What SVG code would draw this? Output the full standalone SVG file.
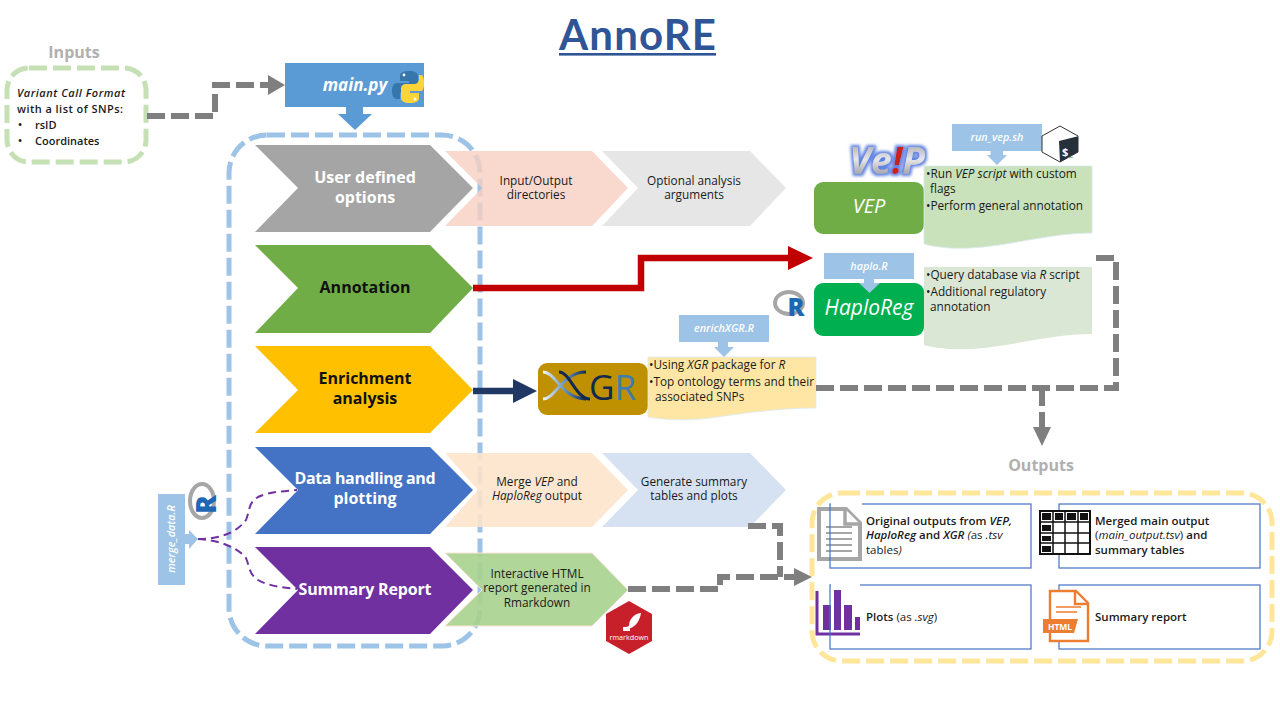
<svg xmlns="http://www.w3.org/2000/svg" width="1280" height="720" viewBox="0 0 1280 720">
<defs>
<style>
text{font-family:"Open Sans","Noto Sans","DejaVu Sans",sans-serif;fill:#1a1a1a;font-size:11.8px}
.m{text-anchor:middle}
.i{font-style:italic}
.b{font-weight:600}
.o{font-size:11.5px}
.h{font-weight:700;font-size:16px;fill:#fff;text-anchor:middle}
.lab{font-weight:700;font-size:16px;fill:#b0b0b0;text-anchor:middle}
.scr{font-style:italic;font-weight:600;font-size:10.8px;fill:#fff;text-anchor:middle}
.big{font-style:italic;fill:#fff;text-anchor:middle}
.chev{stroke:#fff;stroke-width:5;paint-order:stroke}
.gd{fill:none;stroke:#7f7f7f;stroke-width:6;stroke-dasharray:18 6}
.box{fill:none;stroke:#4472c4;stroke-width:1.2}
.sb{fill:#9dc3e6}
.ring{fill:none;stroke:#a6a6a6;stroke-width:4}
</style>
<linearGradient id="vg" x1="0" y1="0" x2="0" y2="1"><stop offset="0" stop-color="#8c8c96"/><stop offset="0.5" stop-color="#e6e6ea"/><stop offset="1" stop-color="#74747c"/></linearGradient>
<linearGradient id="hx" x1="0" y1="0" x2="1" y2="0"><stop offset="0" stop-color="#f0f5fa"/><stop offset="0.55" stop-color="#5d8bbd"/><stop offset="1" stop-color="#12284e"/></linearGradient>
<filter id="gl" x="-20%" y="-20%" width="140%" height="140%">
<feMorphology in="SourceAlpha" operator="dilate" radius="1.6" result="d"/>
<feGaussianBlur in="d" stdDeviation="1.4" result="b"/>
<feFlood flood-color="#5f83e0"/><feComposite in2="b" operator="in" result="c"/>
<feMerge><feMergeNode in="c"/><feMergeNode in="SourceGraphic"/></feMerge>
</filter>
</defs>
<rect width="1280" height="720" fill="#fff"/>

<text x="637.5" y="50" class="m" textLength="157" style="font-family:Lato,'Open Sans',sans-serif;font-weight:700;font-size:42px;fill:#2f5597">AnnoRE</text>
<rect x="559" y="53" width="157" height="2.6" fill="#2f5597"/>

<g id="pipeline-frame"><rect x="229" y="135" width="251" height="511" rx="38" fill="none" stroke="#9dc3e6" stroke-width="5" stroke-dasharray="18 6"/></g>

<g id="inputs">
<text x="74" y="58" class="lab">Inputs</text>
<rect x="7" y="68" width="139" height="94" rx="22" fill="#fff" stroke="#c5e0b4" stroke-width="5" stroke-dasharray="18 6"/>
<text x="17" y="97" class="i b" style="font-size:11px" textLength="108">Variant Call Format</text>
<text x="17" y="113" class="b" style="font-size:11px" textLength="106">with a  list of SNPs:</text>
<text x="18" y="129" class="b" style="font-size:11px">•</text><text x="35" y="129" class="b" style="font-size:11px">rsID</text>
<text x="18" y="145" class="b" style="font-size:11px">•</text><text x="35" y="145" class="b" style="font-size:11px">Coordinates</text>
</g>

<g id="main-py">
<rect x="285" y="63" width="139" height="44" fill="#5b9bd5"/>
<text x="355" y="91" class="m i" style="font-weight:700;font-size:17px;fill:#fff">main.py</text>
<path d="M346 107H363V114H372L355 130L338 114H346Z" fill="#5b9bd5"/>
<path d="M409 71c-6 0-9 2-9 5v5h9v2h-12c-3 0-5 3-5 8s2 8 5 8h3v-4c0-3 2-5 5-5h8c3 0 5-2 5-4v-10c0-3-3-5-9-5z" fill="#3776ab"/>
<path d="M410 103c6 0 9-2 9-5v-5h-9v-2h11c2 0 3-3 3-8s-1-8-3-8h-2v4c0 3-2 5-5 5h-8c-3 0-5 2-5 4v10c0 3 3 5 9 5z" fill="#ffd43b"/>
<circle cx="404" cy="75" r="1.4" fill="#fff"/><circle cx="415" cy="99" r="1.4" fill="#fff"/>
</g>

<g id="step-options">
<path d="M445 151H592L628 188L592 226H445L482 188Z" fill="#f8cfc2" fill-opacity="0.8"/>
<path d="M602 151H750L786 188L750 226H602L638 188Z" fill="#e7e6e6"/>
<path class="chev" d="M255 145H430L473 188L430 232H255L298 188Z" fill="#a5a5a5"/>
<text x="365" y="183" class="h">User defined</text><text x="365" y="203" class="h">options</text>
<text x="536" y="185" class="m">Input/Output</text><text x="536" y="199" class="m">directories</text>
<text x="694" y="185" class="m">Optional analysis</text><text x="694" y="199" class="m">arguments</text>
</g>
<g id="step-annotation">
<path class="chev" d="M255 245H430L473 288L430 333H255L298 288Z" fill="#70ad47"/>
<text x="365" y="293" class="h" style="fill:#111">Annotation</text>
</g>
<g id="step-enrichment">
<path class="chev" d="M255 346H430L473 390L430 433H255L298 390Z" fill="#ffc000"/>
<text x="365" y="384" class="h" style="fill:#111">Enrichment</text><text x="365" y="404" class="h" style="fill:#111">analysis</text>
</g>
<g id="step-data">
<path d="M445 453H592L628 490L592 527H445L478 490Z" fill="#fee4cb" fill-opacity="0.88"/>
<path d="M602 453H750L786 490L750 527H602L638 490Z" fill="#d6e2f2"/>
<path class="chev" d="M255 447H430L473 490L430 534H255L298 490Z" fill="#4472c4"/>
<text x="365" y="484" class="h" textLength="141">Data handling and</text><text x="365" y="504" class="h">plotting</text>
<text x="537" y="486" class="m">Merge  <tspan class="i">VEP</tspan> and</text><text x="537" y="500" class="m"><tspan class="i">HaploReg</tspan> output</text>
<text x="694" y="486" class="m">Generate  summary</text><text x="694" y="500" class="m">tables and plots</text>
</g>
<g id="step-summary">
<path d="M445 553H592L628 590L592 626H445L482 590Z" fill="#a9d18e" fill-opacity="0.9" stroke="#fbe5d6" stroke-width="1"/>
<path class="chev" d="M255 547H430L473 590L430 634H255L298 590Z" fill="#7030a0"/>
<text x="365" y="595" class="h" textLength="133">Summary Report</text>
<text x="537" y="578" class="m">Interactive HTML</text><text x="537" y="592" class="m">report generated  in</text><text x="537" y="607" class="m">Rmarkdown</text>
<path d="M629 601L652 614V641L629 654L606 641V614Z" fill="#c8202a"/>
<path d="M641 613c-8 1-12 7-12 13l-3 1 1 2 4-1c5-2 9-8 10-15z" fill="#fff"/><rect x="623" y="627" width="7" height="4" fill="#fff"/>
<text x="629" y="640" class="m" style="font-size:7.2px;fill:#fff">rmarkdown</text>
</g>

<g id="vep">
<rect x="814" y="182" width="110" height="52" rx="9" fill="#70ad47"/>
<text x="869" y="213" class="big" style="font-size:20px">VEP</text>
<text x="887" y="174" class="m" filter="url(#gl)" style="font-size:37px;font-weight:700;font-style:italic;fill:url(#vg)">Ve<tspan style="fill:#c8201e">!</tspan>P</text>
<path d="M924 166H1092V233C1050 233 1010 246 970 248C950 249 935 247 924 244Z" fill="#c9e2bb" stroke="#dbe9f4" stroke-width="0.8"/>
<text x="926" y="178">•Run <tspan class="i">VEP script</tspan>  with custom</text><text x="930" y="193">flags</text>
<text x="926" y="210" textLength="157">•Perform general annotation</text>
<rect x="952" y="124" width="90" height="27" class="sb"/>
<text x="997" y="141" class="scr">run_vep.sh</text>
<path d="M990.5 151H1003V155H1007L997 165L987 155H990.5Z" class="sb"/>
<path d="M1060 126L1078 136V152L1060 162L1042 152V136Z" fill="#fff" stroke="#333" stroke-width="1"/>
<path d="M1077 136.5L1078 137V152L1060 162L1059 141Z" fill="#25303a"/>
<text x="1062" y="156" style="font-size:11px;font-weight:700;fill:#fff">$<tspan style="fill:#5fb35f">_</tspan></text>
</g>

<g id="haploreg">
<rect x="814" y="283" width="110" height="53" rx="9" fill="#00b050"/>
<text x="869" y="315" class="big" style="font-size:21px">HaploReg</text>
<path d="M924 267H1092V334C1050 334 1010 347 970 349C950 350 935 348 924 345Z" fill="#dbe7d5"/>
<text x="926" y="279">•Query database via <tspan class="i">R</tspan> script</text>
<text x="926" y="296">•Additional regulatory</text><text x="930" y="311">annotation</text>
<rect x="824" y="253" width="90" height="26" class="sb"/>
<text x="869" y="270" class="scr">haplo.R</text>
<path d="M864 279H874V283H880L869.5 293L859 283H864Z" class="sb"/>
<ellipse cx="789" cy="303" rx="14" ry="11" class="ring"/>
<text x="796" y="316" class="m" style="font-size:25px;font-weight:800;fill:#1f66b5">R</text>
</g>

<g id="xgr">
<rect x="538" y="363" width="110" height="52" rx="9" fill="#bf9000"/>
<path d="M543 372C556 372 562 399 586 399" fill="none" stroke="url(#hx)" stroke-width="3"/>
<path d="M543 399C556 399 562 372 586 372" fill="none" stroke="url(#hx)" stroke-width="3"/>
<path d="M559 372C570 372 576 399 590 399" fill="none" stroke="#12284e" stroke-width="3"/>
<text x="589" y="400" style="font-size:35px;fill:#12284e">G<tspan style="fill:#3f7cb0">R</tspan></text>
<path d="M648 357H816V408C780 408 745 413 710 418C685 421 665 420 648 417Z" fill="#ffe6a5" stroke="#dbe9f4" stroke-width="0.8"/>
<text x="649" y="369">•Using <tspan class="i">XGR</tspan>  package for <tspan class="i">R</tspan></text>
<text x="649" y="386" textLength="165">•Top ontology terms and their</text><text x="655" y="401">associated SNPs</text>
<rect x="679" y="315" width="90" height="27" class="sb"/>
<text x="724" y="332" class="scr">enrichXGR.R</text>
<path d="M718 342H728V347H734L724 357L714 347H718Z" class="sb"/>
</g>

<g id="merge-data">
<rect x="158" y="494" width="27" height="91" class="sb"/>
<text transform="translate(175 539) rotate(-90)" class="scr">merge_data.R</text>
<path d="M185 534H189V530L198 539L189 549V544H185Z" class="sb"/>
<ellipse cx="202" cy="501" rx="12" ry="17" class="ring"/>
<text transform="translate(216 514) rotate(-90)" style="font-size:28px;font-weight:800;fill:#1f66b5">R</text>
</g>

<g id="outputs">
<text x="1041" y="471" class="lab">Outputs</text>
<rect x="812" y="493" width="460" height="168" rx="30" fill="none" stroke="#ffe699" stroke-width="5" stroke-dasharray="18 6"/>
<g id="out-original">
<path d="M819 509H846L860 523V559H819Z" fill="#fff" stroke="#a6a6a6" stroke-width="4"/>
<path d="M845 509V524H860" fill="#fff" stroke="#a6a6a6" stroke-width="3.5"/>
<path d="M826 527H852M826 533H852M826 539H852M826 545H852M826 551H852" stroke="#a6a6a6" stroke-width="2"/>
<rect x="830" y="504" width="201" height="64" class="box"/>
<path d="M831 504H862" stroke="#fff" stroke-width="2"/>
<text x="866" y="525" class="b o">Original  outputs from <tspan class="i">VEP,</tspan></text>
<text x="866" y="539" class="b o"><tspan class="i">HaploReg</tspan> and <tspan class="i">XGR</tspan> <tspan class="i" style="font-weight:400">(</tspan><tspan style="font-weight:400">as </tspan><tspan class="i" style="font-weight:400">.tsv</tspan></text>
<text x="866" y="554" class="o">tables<tspan class="i">)</tspan></text>
</g>
<g id="out-merged">
<rect x="1059" y="504" width="201" height="64" class="box"/>
<rect x="1040" y="511" width="50" height="43" fill="#fff" stroke="#111" stroke-width="2"/>
<path d="M1040 522H1090M1040 533H1090M1040 543H1090M1053 511V554M1065 511V554M1078 511V554" stroke="#111" stroke-width="1.5"/>
<path d="M1042 513H1051V520H1042ZM1055 513H1063V520H1055ZM1067 513H1076V520H1067ZM1080 513H1088V520H1080ZM1042 525H1051V531H1042ZM1042 536H1051V541H1042ZM1042 546H1051V552H1042Z" fill="#111"/>
<text x="1095" y="525" class="b o">Merged main output</text>
<text x="1095" y="539" class="o">(<tspan class="i">main_output.tsv</tspan>) <tspan class="b">and</tspan></text>
<text x="1095" y="554" class="b o">summary tables</text>
</g>
<g id="out-plots">
<path d="M817 591V634H860" fill="none" stroke="#7030a0" stroke-width="3"/>
<path d="M823 605H831V630H823ZM834 590H841V630H834ZM844 605H852V630H844ZM855 617H860V630H855Z" fill="#7030a0"/>
<rect x="830" y="585" width="201" height="64" class="box"/>
<path d="M831 585H860" stroke="#fff" stroke-width="2"/>
<text x="866" y="621" class="o"><tspan class="b">Plots</tspan> (as <tspan class="i">.svg</tspan>)</text>
</g>
<g id="out-report">
<rect x="1059" y="585" width="201" height="64" class="box"/>
<path d="M1050 591H1076L1088 603V641H1050Z" fill="#fff" stroke="#ed7d31" stroke-width="2.4"/>
<path d="M1075 591V604H1088" fill="none" stroke="#ed7d31" stroke-width="2.4"/>
<path d="M1056 607H1081M1056 612H1077" stroke="#ed7d31" stroke-width="1.5"/>
<path d="M1043 619H1078L1074 633H1043Z" fill="#ed7d31"/>
<text x="1060" y="630" class="m" style="font-size:8.5px;font-weight:700;fill:#fff">HTML</text>
<text x="1095" y="621" class="b o">Summary report</text>
</g>
</g>

<g id="connectors">
<path class="gd" d="M147 116H215V85H268"/><path d="M268 75L285 85L268 95Z" fill="#7f7f7f"/>
<path d="M473 288H641V258H790" fill="none" stroke="#c00000" stroke-width="6.5"/><path d="M788 246L813 258L788 270Z" fill="#c00000"/>
<path d="M473 391H515" fill="none" stroke="#1f3864" stroke-width="6.5"/><path d="M513 379L537 391L513 403Z" fill="#1f3864"/>
<path class="gd" d="M816 388H1116V258H1090"/>
<path class="gd" d="M1042 388V428"/><path d="M1033 427H1051L1042 446Z" fill="#7f7f7f"/>
<path class="gd" d="M748 526H780V577"/>
<path class="gd" d="M628 589H720V577H795"/><path d="M794 568L812 577L794 586Z" fill="#7f7f7f"/>
<path d="M198 539C215 539 235 535 246 520C250 510 248 503 258 497C268 492 285 491 297 490" fill="none" stroke="#7030a0" stroke-width="2" stroke-dasharray="8 5"/>
<path d="M198 539C215 540 235 545 246 558C250 568 249 574 258 580C268 586 285 588 297 589" fill="none" stroke="#7030a0" stroke-width="2" stroke-dasharray="8 5"/>
</g>
</svg>
